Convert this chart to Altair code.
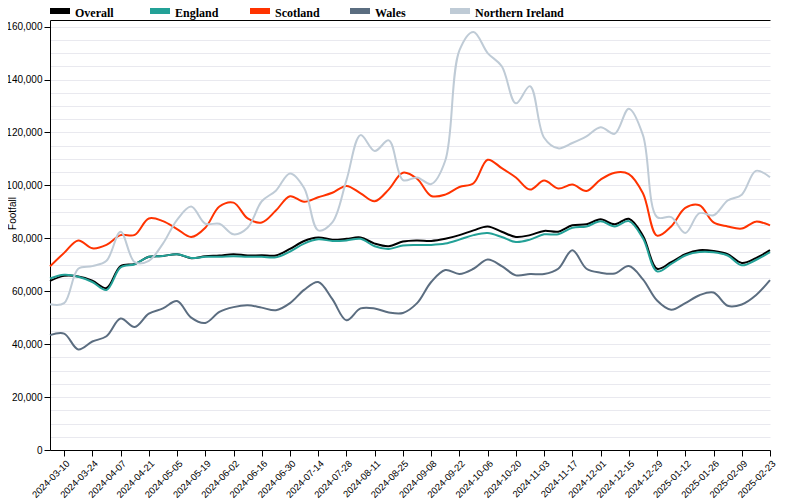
import altair as alt
import pandas as pd

dates = [
    "2024-03-03", "2024-03-10", "2024-03-17", "2024-03-24", "2024-03-31", "2024-04-07",
    "2024-04-14", "2024-04-21", "2024-04-28", "2024-05-05", "2024-05-12", "2024-05-19",
    "2024-05-26", "2024-06-02", "2024-06-09", "2024-06-16", "2024-06-23", "2024-06-30",
    "2024-07-07", "2024-07-14", "2024-07-21", "2024-07-28", "2024-08-04", "2024-08-11",
    "2024-08-18", "2024-08-25", "2024-09-01", "2024-09-08", "2024-09-15", "2024-09-22",
    "2024-09-29", "2024-10-06", "2024-10-13", "2024-10-20", "2024-10-27", "2024-11-03",
    "2024-11-10", "2024-11-17", "2024-11-24", "2024-12-01", "2024-12-08", "2024-12-15",
    "2024-12-22", "2024-12-29", "2025-01-05", "2025-01-12", "2025-01-19", "2025-01-26",
    "2025-02-02", "2025-02-09", "2025-02-16", "2025-02-23",
]

overall = [
    63900, 65800, 65600, 64000, 61200, 69500, 70300, 73000, 73300, 74000, 72500, 73200,
    73500, 74000, 73500, 73600, 73500, 76000, 79000, 80300, 79500, 79800, 80300, 78000,
    77000, 78800, 79200, 79000, 79800, 81200, 83000, 84500, 82500, 80500, 81200, 82800,
    82500, 84900, 85300, 87200, 85300, 87400, 81000, 68500, 71000, 74000, 75500, 75200,
    74000, 70700, 72500, 75500,
]
england = [
    64800, 66200, 65500, 63500, 60500, 69000, 70200, 73000, 73300, 74000, 72600, 73000,
    73000, 73200, 73000, 73000, 72800, 75000, 78000, 79600, 79000, 79200, 79800, 77000,
    76000, 77300, 77500, 77500, 78000, 79500, 81200, 82000, 80500, 78600, 79500, 81500,
    81500, 84000, 84500, 86400, 84500, 86500, 80000, 67500, 70300, 73500, 74800, 74700,
    73500, 69800, 71800, 74800,
]
scotland = [
    69400, 74500, 79200, 76200, 77500, 81200, 81300, 87500, 86500, 83500, 80500, 84000,
    92000, 93500, 87500, 86000, 90500, 95900, 93800, 95500, 97200, 99800, 97000, 94000,
    98500, 104800, 102500, 96000, 96500, 99400, 100800, 109700, 106500, 103000, 98400, 101800,
    98800, 100300, 97900, 102200, 104800, 104300, 97000, 81000, 84500, 91500, 92500, 86000,
    84500, 83700, 86300, 84900,
]
wales = [
    43400, 44000, 38000, 41000, 43000, 49700, 46500, 51500, 53500, 56300, 50000, 48000,
    52200, 54000, 54700, 53800, 52800, 55500, 60500, 63500, 57000, 49000, 53500, 53500,
    52000, 51800, 55500, 63500, 68000, 66500, 68500, 72000, 69500, 66000, 66500, 66500,
    68500, 75500, 68500, 67000, 66700, 69500, 64500, 56500, 53000, 55500, 58500, 59500,
    54500, 55000, 58500, 64200,
]
northern_ireland = [
    55100, 55500, 68500, 69500, 71500, 82500, 71000, 71500, 78000, 87000, 92000, 85500,
    85500, 81500, 84000, 94000, 98000, 104500, 99000, 83000, 86000, 102000, 119000, 113000,
    117000, 102000, 103000, 100500, 109400, 151000, 158000, 150000, 145000, 131000, 137500, 118000,
    114000, 116000, 118500, 122000, 119500, 129000, 119000, 88000, 88000, 82000, 89500, 88700,
    94300, 96500, 105500, 103100,
]

series_names = ["Overall", "England", "Scotland", "Wales", "Northern Ireland"]
series_colors = ["#000000", "#23a197", "#ff3300", "#5b6d80", "#bfcbd6"]
series_values = [overall, england, scotland, wales, northern_ireland]

grid_values = list(range(0, 160001, 5000))
tick_dates = dates[1::2]

rows = []
for name, vals in zip(series_names, series_values):
    for d, v in zip(dates, vals):
        rows.append({"date": d, "series": name, "footfall": v})
df = pd.DataFrame(rows)
legend_df = pd.DataFrame({"series": series_names})


def dt(s):
    y, m, d = (int(p) for p in s.split("-"))
    return alt.DateTime(year=y, month=m, date=d, utc=True)


x_scale = alt.Scale(type="utc", domain=[dt(dates[0]), dt(dates[-1])])
y_scale = alt.Scale(domain=[0, 162500], nice=False)
color_scale = alt.Scale(domain=series_names, range=series_colors)

y_axis = alt.Axis(
    values=grid_values,
    labelExpr="datum.value % 20000 === 0 ? format(datum.value, ',') : ''",
    tickOpacity={"condition": {"test": "datum.value % 20000 === 0", "value": 1}, "value": 0},
    tickColor="black",
    tickSize=6,
    domainColor="black",
    grid=True,
    gridColor="#e9e9ef",
    gridWidth=1,
    labelFont="Liberation Sans",
    labelFontSize=10,
    labelColor="black",
    title="Footfall",
    titleFont="Liberation Sans",
    titleFontSize=10,
    titleFontWeight="normal",
    titleColor="black",
    titleX=-38,
    titleY=193,
    titleAngle=-90,
    titleAlign="center",
    titleBaseline="middle",
    labelOverlap=False,
)

lines = alt.Chart(df).mark_line(interpolate="catmull-rom", strokeWidth=2).encode(
    x=alt.X(
        "date:T",
        scale=x_scale,
        axis=alt.Axis(
            values=[dt(s) for s in tick_dates],
            format="%Y-%m-%d",
            labelAngle=-45,
            labelAlign="right",
            labelBaseline="top",
            labelPadding=2,
            labelFont="Liberation Sans",
            labelFontSize=9.5,
            labelColor="black",
            tickColor="black",
            tickSize=6,
            domainColor="black",
            grid=False,
            title=None,
            labelOverlap=False,
        ),
    ),
    y=alt.Y("footfall:Q", scale=y_scale, axis=y_axis),
    color=alt.Color("series:N", scale=color_scale, legend=None),
    detail="series:N",
)

top_axis = alt.Chart(df).mark_line(opacity=0).encode(
    x=alt.X(
        "date:T",
        scale=x_scale,
        axis=alt.Axis(orient="top", labels=False, ticks=False, grid=False, domainColor="black", title=None),
    ),
    y=alt.Y("footfall:Q", scale=y_scale, axis=y_axis),
    detail="series:N",
)

legend_x = alt.X(
    "series:N",
    scale=alt.Scale(type="point", domain=series_names, range=[0, 400], padding=0),
    axis=None,
)

legend_swatch = alt.Chart(legend_df).mark_point(
    shape="M0,-0.3 L2,-0.3 L2,0.3 L0,0.3 Z",
    size=400,
    filled=True,
    opacity=1,
    strokeWidth=0,
).encode(
    x=legend_x,
    y=alt.value(-9),
    color=alt.Color("series:N", scale=color_scale, legend=None),
)

legend_text = alt.Chart(legend_df).mark_text(
    align="left",
    baseline="alphabetic",
    dx=25,
    font="Liberation Serif",
    fontSize=12,
    fontWeight="bold",
    color="black",
).encode(
    x=legend_x,
    y=alt.value(-3),
    text="series:N",
)

chart = (
    alt.layer(lines, top_axis, legend_swatch, legend_text)
    .resolve_scale(x="independent")
    .properties(
        width=720,
        height=430,
        autosize=alt.AutoSizeParams(type="none"),
        padding={"left": 42, "top": 12, "right": 22, "bottom": 50},
        background="white",
    )
    .configure_view(stroke=None)
)

chart.save("out.html", embed_options={"renderer": "svg", "actions": False})
